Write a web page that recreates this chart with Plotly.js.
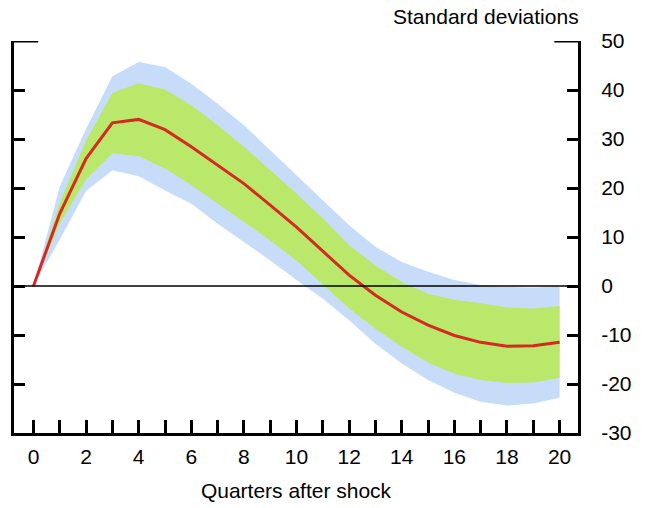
<!DOCTYPE html>
<html>
<head>
<meta charset="utf-8">
<script src="https://cdn.plot.ly/plotly-3.0.1.min.js"></script>
<style>
  html, body { margin: 0; padding: 0; background: #fff; }
  #chart { width: 652px; height: 508px; }
</style>
</head>
<body>
<div id="chart"></div>
<script>
// Impulse response, quarters after the shock (standard deviations)
const quarters = [0, 1, 2, 3, 4, 5, 6, 7, 8, 9, 10, 11, 12, 13, 14, 15, 16, 17, 18, 19, 20];
const median = [0, 14.8, 26.0, 33.3, 34.0, 31.9, 28.4, 24.6, 20.9, 16.5, 12.0, 7.1, 2.2, -1.9, -5.3, -8.0, -10.1, -11.5, -12.3, -12.2, -11.5];
const innerUpper = [0, 17.0, 29.7, 39.4, 41.4, 40.1, 36.9, 32.8, 28.4, 23.6, 18.9, 13.8, 8.3, 4.2, 0.8, -1.6, -2.8, -3.5, -4.4, -4.6, -4.1];
const innerLower = [0, 12.8, 21.8, 27.1, 26.5, 24.0, 20.6, 16.8, 13.1, 9.3, 5.2, 0.2, -4.6, -8.7, -12.4, -15.6, -17.9, -19.2, -19.8, -19.7, -18.7];
const outerUpper = [0, 20.3, 32.1, 42.8, 45.7, 44.7, 41.3, 37.2, 32.8, 27.7, 22.6, 17.5, 12.4, 8.0, 4.9, 2.9, 1.2, 0.2, -0.2, -0.3, -0.1];
const outerLower = [0, 9.5, 19.4, 23.6, 22.4, 19.5, 16.8, 12.7, 9.0, 5.2, 1.2, -2.6, -7.0, -11.8, -15.8, -19.2, -21.8, -23.6, -24.4, -24.0, -22.8];

const xTickVals = quarters;
const xTickText = quarters.map(q => (q % 2 === 0 ? String(q) : ''));
const yTickVals = [-30, -20, -10, 0, 10, 20, 30, 40, 50];
const yTickText = ['-30', '-20', '-10', '0', '10', '20', '30', '40', '50'];

const BLUE = '#c7dcf9';
const GREEN = '#bae86a';
const RED = '#d42a22';
const FONT = 'Liberation Sans, Arial, sans-serif';
const FONT_SIZE = 21;

const noLine = { width: 0, color: 'rgba(0,0,0,0)' };

const traces = [
  { x: quarters, y: outerUpper, type: 'scatter', mode: 'lines', line: noLine, hoverinfo: 'skip', showlegend: false },
  { x: quarters, y: outerLower, type: 'scatter', mode: 'lines', line: noLine, fill: 'tonexty', fillcolor: BLUE, hoverinfo: 'skip', showlegend: false },
  { x: quarters, y: innerUpper, type: 'scatter', mode: 'lines', line: noLine, hoverinfo: 'skip', showlegend: false },
  { x: quarters, y: innerLower, type: 'scatter', mode: 'lines', line: noLine, fill: 'tonexty', fillcolor: GREEN, hoverinfo: 'skip', showlegend: false },
  { x: quarters, y: median, type: 'scatter', mode: 'lines', line: { color: RED, width: 3 }, showlegend: false }
];

const layout = {
  width: 652,
  height: 508,
  margin: { l: 14, r: 74, t: 41, b: 75, pad: 0 },
  paper_bgcolor: '#fff',
  plot_bgcolor: '#fff',
  font: { family: FONT, size: FONT_SIZE, color: '#000' },
  showlegend: false,
  xaxis: {
    range: [-0.74, 20.7],
    tickmode: 'array',
    tickvals: xTickVals,
    ticktext: xTickText,
    ticks: 'inside',
    ticklen: 13,
    tickwidth: 3,
    tickcolor: '#000',
    ticklabelstandoff: 3,
    showline: true,
    linewidth: 3,
    linecolor: '#000',
    showgrid: false,
    zeroline: false,
    fixedrange: true,
    title: { text: 'Quarters after shock', font: { family: FONT, size: FONT_SIZE }, standoff: 17 }
  },
  yaxis: {
    range: [-30, 50],
    side: 'right',
    mirror: 'ticks',
    tickmode: 'array',
    tickvals: yTickVals,
    ticktext: yTickText,
    ticks: 'inside',
    ticklen: 11,
    tickwidth: 3,
    tickcolor: '#000',
    ticklabelstandoff: 16,
    showline: true,
    linewidth: 3,
    linecolor: '#000',
    showgrid: false,
    zeroline: false,
    fixedrange: true
  },
  shapes: [
    // reference line at zero
    { type: 'line', xref: 'paper', yref: 'y', x0: 0, x1: 1, y0: 0, y1: 0, line: { color: '#000', width: 1.3 }, layer: 'above' },
    // longer cap ticks at the top of both vertical axes
    { type: 'line', xref: 'paper', yref: 'y', x0: 0, x1: 0.043, y0: 50, y1: 50, line: { color: '#000', width: 3 }, layer: 'above' },
    { type: 'line', xref: 'paper', yref: 'y', x0: 0.958, x1: 1, y0: 50, y1: 50, line: { color: '#000', width: 3 }, layer: 'above' }
  ],
  annotations: [
    { text: 'Standard deviations', xref: 'paper', yref: 'paper', x: 1.005, y: 1, xanchor: 'right', yanchor: 'bottom', yshift: 11, showarrow: false, font: { family: FONT, size: FONT_SIZE, color: '#000' } }
  ]
};

Plotly.newPlot('chart', traces, layout, { displayModeBar: false, staticPlot: true });
</script>
</body>
</html>
